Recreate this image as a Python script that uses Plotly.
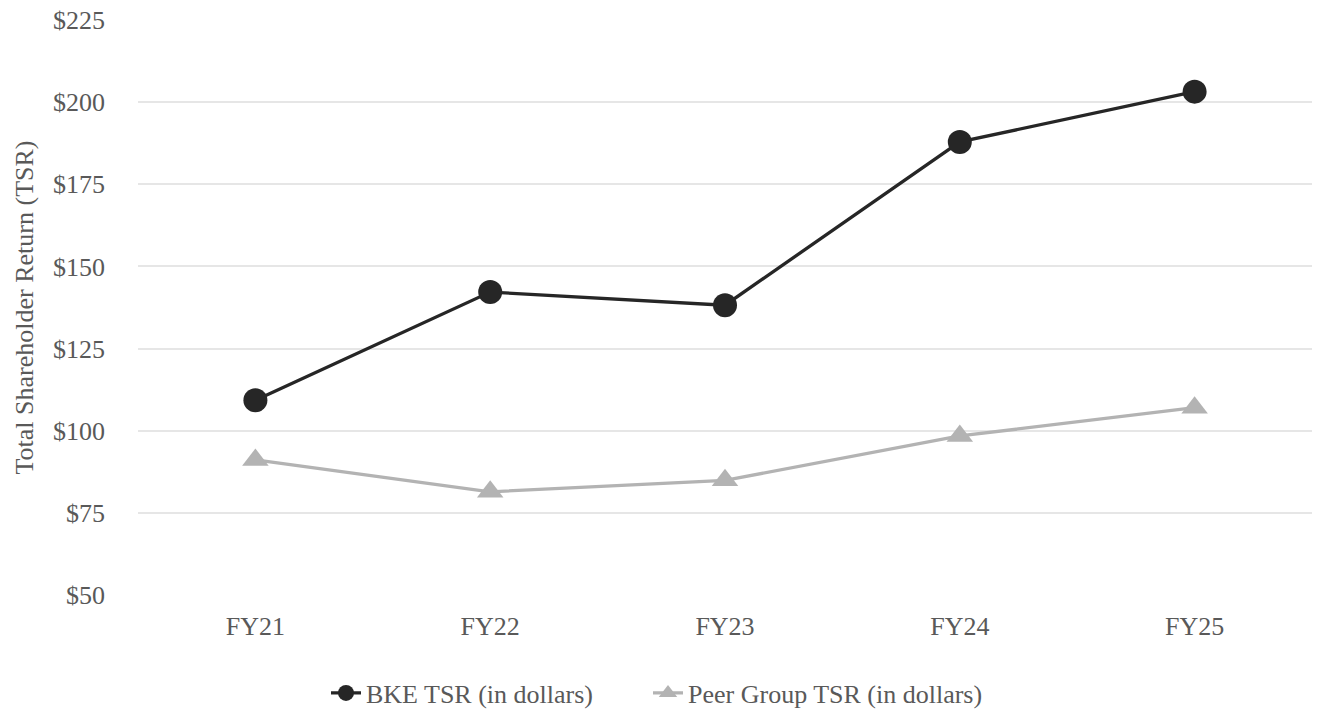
import plotly.graph_objects as go

categories = ["FY21", "FY22", "FY23", "FY24", "FY25"]
bke_tsr = [109.3, 142.2, 138.2, 187.9, 203.2]
peer_tsr = [91.1, 81.4, 84.9, 98.4, 107.0]
y_ticks = [50, 75, 100, 125, 150, 175, 200, 225]
y_labels = ["$" + str(v) for v in y_ticks]

font_family = "Liberation Serif"
text_color = "#595959"
fs = 26

fig = go.Figure()
fig.add_trace(go.Scatter(
    x=categories, y=bke_tsr, name="BKE TSR (in dollars)",
    mode="lines+markers", legend="legend",
    line=dict(color="#262626", width=3.3),
    marker=dict(symbol="circle", size=24, color="#262626"),
))
fig.add_trace(go.Scatter(
    x=categories, y=peer_tsr, name="Peer Group TSR (in dollars)",
    mode="lines+markers", legend="legend2",
    line=dict(color="#b3b3b3", width=3.3),
    marker=dict(symbol="triangle-up", size=23, color="#b3b3b3"),
))

legend_common = dict(orientation="h", xref="container", yref="container",
                     xanchor="left", y=20 / 713, yanchor="middle",
                     font=dict(family=font_family, size=fs, color=text_color),
                     itemsizing="trace", bgcolor="rgba(0,0,0,0)")

fig.update_layout(
    width=1318, height=713,
    margin=dict(l=137.5, r=5.5, t=20, b=118, autoexpand=False),
    plot_bgcolor="white", paper_bgcolor="white",
    font=dict(family=font_family, size=fs, color=text_color),
    showlegend=True,
    legend=dict(x=326 / 1318, **legend_common),
    legend2=dict(x=648 / 1318, **legend_common),
    xaxis=dict(
        type="category", range=[-0.5, 4.5], showgrid=False, zeroline=False,
        showline=False, ticks="", automargin=False, ticklabelstandoff=13,
        tickfont=dict(family=font_family, size=fs, color=text_color),
    ),
    yaxis=dict(
        range=[50, 225], tickvals=y_ticks, ticktext=y_labels,
        showgrid=True, gridcolor="#e6e6e6", gridwidth=1.5, zeroline=False,
        showline=False, ticks="", ticklabelstandoff=32, automargin=False,
        tickfont=dict(family=font_family, size=fs, color=text_color),
        title=dict(text="Total Shareholder Return (TSR)", standoff=11,
                   font=dict(family=font_family, size=fs, color=text_color)),
    ),
)

fig.write_html("out.html", config={"displayModeBar": False},
               post_script="document.body.style.margin='0';")
